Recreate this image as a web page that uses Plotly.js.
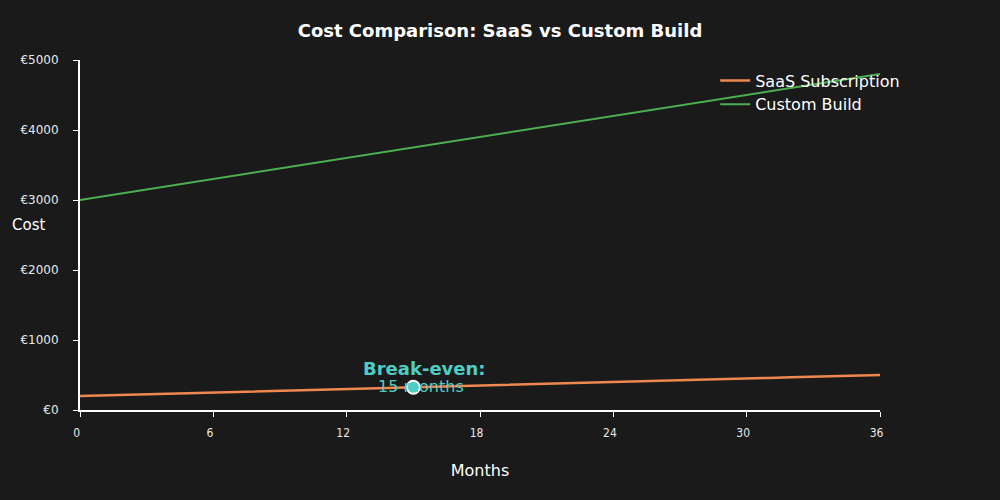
<!DOCTYPE html>
<html><head><meta charset="utf-8">
<script src="https://cdn.plot.ly/plotly-3.0.1.min.js"></script>
<style>html,body{margin:0;padding:0;background:#1a1a1a;}#chart{width:1000px;height:500px;}</style>
</head><body><div id="chart"></div>
<script>
const months = [0,1,2,3,4,5,6,7,8,9,10,11,12,13,14,15,16,17,18,19,20,21,22,23,24,25,26,27,28,29,30,31,32,33,34,35,36];
const saasCost = [200,208,217,225,233,242,250,258,267,275,283,292,300,308,317,325,333,342,350,358,367,375,383,392,400,408,417,425,433,442,450,458,467,475,483,492,500];
const customCost = [3000,3050,3100,3150,3200,3250,3300,3350,3400,3450,3500,3550,3600,3650,3700,3750,3800,3850,3900,3950,4000,4050,4100,4150,4200,4250,4300,4350,4400,4450,4500,4550,4600,4650,4700,4750,4800];
const breakEvenMonth = [15];
const breakEvenCost = [325];
const xTicks = [0,6,12,18,24,30,36];
const xTickText = ["0\u00a0\u00a0","6\u00a0\u00a0","12\u00a0\u00a0","18\u00a0\u00a0","24\u00a0\u00a0","30\u00a0\u00a0","36\u00a0\u00a0"];
const yTicks = [0,1000,2000,3000,4000,5000];
const yTickText = ["€0","€1000","€2000","€3000","€4000","€5000"];

const font = "DejaVu Sans, sans-serif";
const data = [
  {x: months, y: saasCost, type:'scatter', mode:'lines', name:'SaaS Subscription', line:{color:'#f0874f', width:2.5}},
  {x: months, y: customCost, type:'scatter', mode:'lines', name:'Custom Build', line:{color:'#4caf50', width:2}},
  {x: breakEvenMonth, y: breakEvenCost, type:'scatter', mode:'markers', showlegend:false,
   marker:{color:'#4ecdc4', size:13, line:{color:'#ffffff', width:2}}}
];
const layout = {
  width:1000, height:500,
  paper_bgcolor:'#1a1a1a', plot_bgcolor:'#1a1a1a',
  margin:{l:80, r:120, t:60, b:90},
  title:{text:'<b>Cost Comparison: SaaS vs Custom Build</b>', font:{family:font, size:18, color:'#ffffff'}, x:0.5, xanchor:'center', y:0.938, yanchor:'middle'},
  font:{family:font, color:'#ffffff'},
  xaxis:{range:[0,36], tickvals:xTicks, ticktext:xTickText, ticks:'outside', ticklen:5, tickcolor:'#ffffff', showline:true, linecolor:'#ffffff', linewidth:2,
    showgrid:false, zeroline:false, ticklabelstandoff:6, tickfont:{family:'DejaVu Sans Condensed, DejaVu Sans', size:12, color:'#e8e8e8'},
    title:{text:'Months', font:{family:font, size:16, color:'#ffffff'}, standoff:25}},
  yaxis:{range:[0,5000], tickvals:yTicks, ticktext:yTickText, ticks:'outside', ticklen:5, tickcolor:'#ffffff', showline:true, linecolor:'#ffffff', linewidth:2,
    showgrid:false, zeroline:false, ticklabelstandoff:12, tickfont:{family:font, size:12, color:'#e8e8e8'}},
  legend:{x:0.794, y:0.99, xanchor:'left', yanchor:'top', bgcolor:'rgba(0,0,0,0)', font:{family:font, size:16, color:'#ffffff'}, itemwidth:30, tracegroupgap:0},
  annotations:[
    {xref:'paper', yref:'paper', x:-0.088, y:0.53, text:'Cost', showarrow:false, xanchor:'left', font:{family:font, size:15, color:'#ffffff'}},
    {x:breakEvenMonth[0], y:breakEvenCost[0], text:'<b>Break-even:</b>', showarrow:false, xshift:11, yshift:19, yanchor:'middle', font:{family:font, size:18, color:'#4ecdc4'}},
    {x:breakEvenMonth[0], y:breakEvenCost[0], text:'15 months', showarrow:false, xshift:8, yshift:1, yanchor:'middle', font:{family:font, size:16, color:'#4ecdc4'}}
  ]
};
Plotly.newPlot('chart', data, layout, {displayModeBar:false});
</script></body></html>
